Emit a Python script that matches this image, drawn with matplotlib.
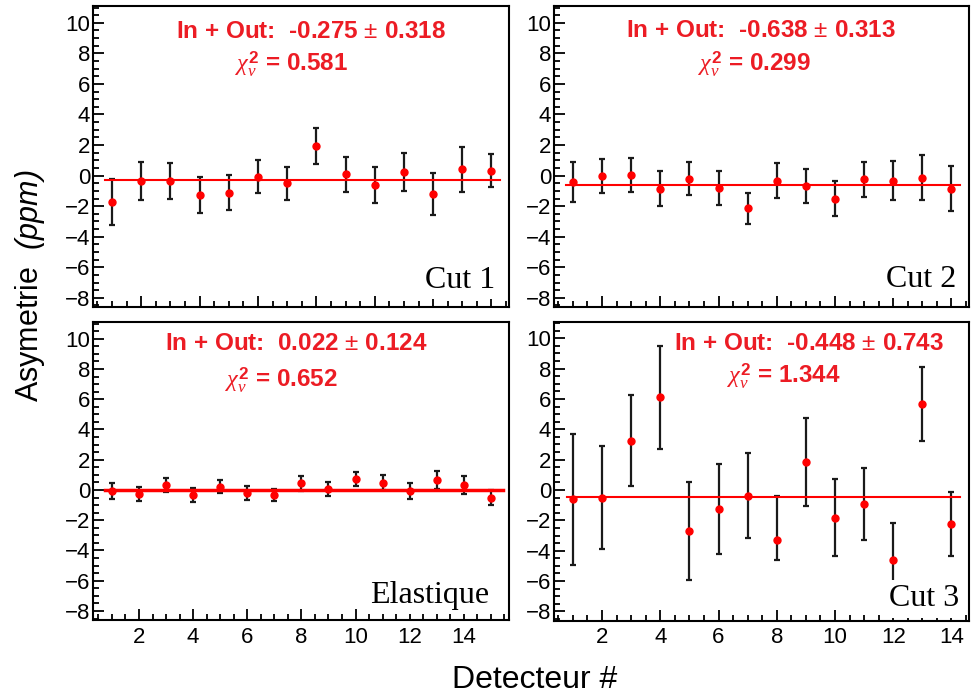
import numpy as np
import matplotlib
matplotlib.use('Agg')
from matplotlib import pyplot as plt
from matplotlib.ticker import MultipleLocator

plt.rcParams['font.family'] = ['Liberation Sans', 'DejaVu Sans']
plt.rcParams['mathtext.fontset'] = 'custom'
plt.rcParams['mathtext.rm'] = 'Liberation Sans'
plt.rcParams['mathtext.it'] = 'Liberation Serif:italic'
plt.rcParams['mathtext.sf'] = 'Liberation Sans:italic'
plt.rcParams['mathtext.bf'] = 'Liberation Sans:bold'

# detector numbers
det14 = [1, 2, 3, 4, 5, 6, 7, 8, 9, 10, 11, 12, 13, 14]
det15 = [1, 2, 3, 4, 5, 6, 7, 8, 9, 10, 11, 12, 13, 14, 15]

# asymmetry per detector (ppm) and errors
cut1_val = [-1.72, -0.35, -0.35, -1.29, -1.11, -0.09, -0.50, 1.96, 0.09, -0.61, 0.24, -1.20, 0.41, 0.33]
cut1_err = [1.50, 1.23, 1.17, 1.17, 1.12, 1.08, 1.07, 1.17, 1.15, 1.19, 1.23, 1.37, 1.46, 1.10]

cut2_val = [-0.42, -0.04, 0.04, -0.86, -0.20, -0.81, -2.15, -0.33, -0.68, -1.51, -0.24, -0.33, -0.13, -0.86]
cut2_err = [1.30, 1.12, 1.10, 1.15, 1.10, 1.09, 1.03, 1.15, 1.12, 1.15, 1.14, 1.29, 1.48, 1.49]

elas_val = [-0.07, -0.26, 0.33, -0.31, 0.22, -0.20, -0.33, 0.44, 0.07, 0.72, 0.48, -0.07, 0.63, 0.35, -0.50]
elas_err = [0.50, 0.45, 0.44, 0.47, 0.45, 0.44, 0.42, 0.50, 0.44, 0.49, 0.51, 0.53, 0.60, 0.60, 0.52]

cut3_val = [-0.61, -0.50, 3.25, 6.10, -2.70, -1.25, -0.37, -3.27, 1.84, -1.82, -0.92, -4.58, 5.66, -2.24]
cut3_lo = [4.30, 3.40, 3.00, 3.40, 3.25, 2.96, 2.80, 1.31, 2.90, 2.55, 2.38, 2.40, 2.46, 2.12]
cut3_hi = [4.30, 3.40, 3.00, 3.40, 3.25, 2.96, 2.80, 2.90, 2.90, 2.55, 2.38, 2.40, 2.46, 2.12]

# fit results
fit_val = [-0.275, -0.638, 0.022, -0.448]
fit_err = [0.318, 0.313, 0.124, 0.743]
chi2 = [0.581, 0.299, 0.652, 1.344]
names = ['Cut 1', 'Cut 2', 'Elastique', 'Cut 3']

red_txt = '#ec1c24'

fig = plt.figure(figsize=(9.71, 6.98), dpi=100)

rects = [[0.0958, 0.5602, 0.4284, 0.4312],
         [0.5705, 0.5602, 0.4274, 0.4312],
         [0.0958, 0.1117, 0.4284, 0.4269],
         [0.5705, 0.1110, 0.4274, 0.4283]]

panels = [
    (det14, cut1_val, [cut1_err, cut1_err], (0.35, 14.6), (0.77, 14.3), 1.5),
    (det14, cut2_val, [cut2_err, cut2_err], (0.35, 14.6), (0.77, 14.3), 1.5),
    (det15, elas_val, [elas_err, elas_err], (0.3, 15.67), (0.75, 15.43), 2.5),
    (det14, cut3_val, [cut3_lo, cut3_hi], (0.35, 14.6), (0.8, 14.3), 1.5),
]

# text positions (axes fraction)
top_pos = [(0.524, 0.915), (0.499, 0.918), (0.488, 0.928), (0.614, 0.928)]
chi_pos = [(0.478, 0.805), (0.484, 0.805), (0.452, 0.805), (0.554, 0.818)]
name_pos = [(0.966, 0.063), (0.969, 0.066), (0.952, 0.057), (0.976, 0.047)]

for i in range(4):
    x, y, yerr, xlim, line_x, line_w = panels[i]
    ax = fig.add_axes(rects[i])
    ax.errorbar(x, y, yerr=yerr, fmt='none', ecolor='#1a1a1a', elinewidth=1.6,
                capsize=2.2, capthick=1.6, zorder=2)
    ax.plot(x, y, 'o', color='red', markersize=5, zorder=4)
    ax.plot(line_x, [fit_val[i], fit_val[i]], color='red', lw=line_w, zorder=3)

    ax.set_xlim(xlim)
    ax.set_ylim(-8.6, 11.1)
    ax.yaxis.set_major_locator(MultipleLocator(2))
    ax.yaxis.set_minor_locator(MultipleLocator(0.5))
    ax.xaxis.set_major_locator(MultipleLocator(2))
    ax.xaxis.set_minor_locator(MultipleLocator(0.5))
    ax.tick_params(which='both', direction='in', top=False, right=False, width=1.3)
    ax.tick_params(which='major', length=8)
    ax.tick_params(which='minor', length=4)
    ax.tick_params(axis='y', pad=2, labelsize=16)
    ax.tick_params(axis='x', pad=5, labelsize=16)
    if i < 2:
        ax.set_xticklabels([])
    for s in ax.spines.values():
        s.set_linewidth(1.5)

    ax.text(top_pos[i][0], top_pos[i][1],
            'In + Out:  ' + f'{fit_val[i]:.3f}' + r' $\pm$ ' + f'{fit_err[i]:.3f}',
            transform=ax.transAxes, ha='center', va='center', color=red_txt,
            fontsize=17.5, fontweight='bold', zorder=6)
    ax.text(chi_pos[i][0], chi_pos[i][1],
            r'$\chi^{\mathbf{2}}_{\nu}$ = ' + f'{chi2[i]:.3f}',
            transform=ax.transAxes, ha='center', va='center', color=red_txt,
            fontsize=17.5, fontweight='bold', zorder=6)
    ax.text(name_pos[i][0], name_pos[i][1], names[i], transform=ax.transAxes,
            ha='right', va='baseline', fontsize=23, family='Liberation Serif',
            bbox=dict(facecolor='white', edgecolor='none', pad=3), zorder=5)

fig.text(30 / 971, 1 - 286 / 698, r'Asymetrie  $\mathsf{(ppm)}$', rotation=90,
         ha='center', va='center', fontsize=22)
fig.text(535 / 971, 1 - 680 / 698, 'Detecteur #', ha='center', va='center',
         fontsize=23)

fig.savefig('out.png', dpi=100)
